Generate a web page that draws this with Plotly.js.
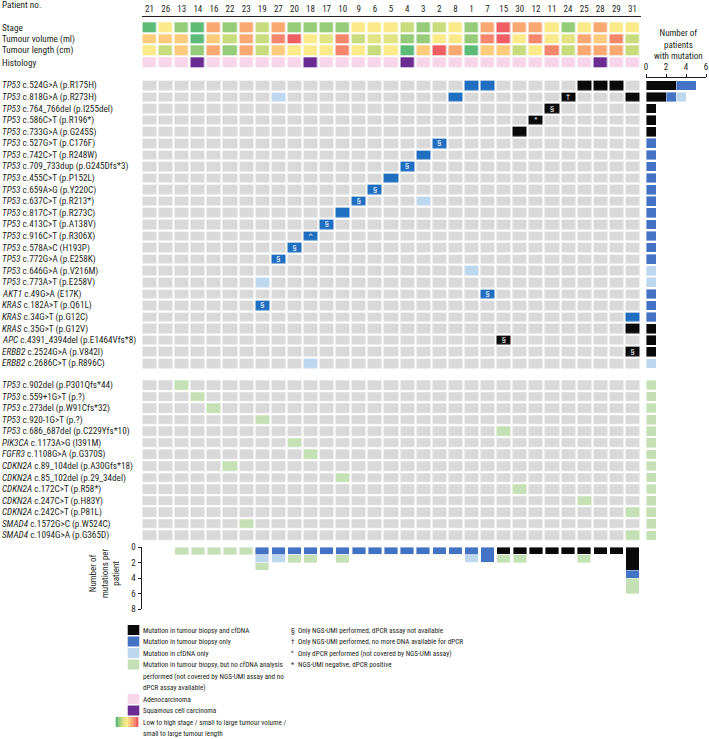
<!DOCTYPE html>
<html><head><meta charset="utf-8">
<script src="https://cdn.plot.ly/plotly-3.0.1.min.js"></script>
<style>html,body{margin:0;padding:0;background:#fff}#chart{width:709px;height:739px}</style>
</head><body><div id="chart"></div>
<script>
// ---------------- DATA ----------------
const patients = [21,26,13,14,16,22,23,19,27,20,18,17,10,9,6,5,4,3,2,8,1,7,15,30,12,11,24,25,28,29,31];
const clinicalLabels = ['Stage','Tumour volume (ml)','Tumour length (cm)','Histology'];
// colour level 1 (low/small, green) .. 9 (high/large, red)
const stageLevel  = [1,5,2,1,7,2,7,3,7,2,2,2,2,5,5,5,3,2,3,5,2,7,9,7,7,5,2,5,7,5,5];
const volumeLevel = [6,6,6,1,6,3,7,3,8,9,5,4,8,3,4,4,2,2,5,5,2,8,9,5,8,5,4,7,6,8,3];
const lengthLevel = [5,3,6,2,7,2,7,3,6,5,5,5,8,5,3,5,1,6,9,7,1,6,6,3,5,8,3,7,7,7,3];
const histology   = ['A','A','A','S','A','A','A','A','A','A','S','A','A','A','A','A','S','A','A','A','A','A','A','A','A','A','A','A','S','A','A'];

const group1Genes = ['TP53','TP53','TP53','TP53','TP53','TP53','TP53','TP53','TP53','TP53','TP53','TP53','TP53','TP53','TP53','TP53','TP53','TP53','AKT1','KRAS','KRAS','KRAS','APC','ERBB2','ERBB2'];
const group1Variants = ['c.524G>A (p.R175H)','c.818G>A (p.R273H)','c.764_766del (p.I255del)','c.586C>T (p.R196*)','c.733G>A (p.G245S)','c.527G>T (p.C176F)','c.742C>T (p.R248W)','c.709_733dup (p.G245Dfs*3)','c.455C>T (p.P152L)','c.659A>G (p.Y220C)','c.637C>T (p.R213*)','c.817C>T (p.R273C)','c.413C>T (p.A138V)','c.916C>T (p.R306X)','c.578A>C (H193P)','c.772G>A (p.E258K)','c.646G>A (p.V216M)','c.773A>T (p.E258V)','c.49G>A (E17K)','c.182A>T (p.Q61L)','c.34G>T (p.G12C)','c.35G>T (p.G12V)','c.4391_4394del (p.E1464Vfs*8)','c.2524G>A (p.V842I)','c.2686C>T (p.R896C)'];
// per row: [patient no., status, symbol]; B = biopsy+cfDNA, T = biopsy only, C = cfDNA only
const group1Hits = [
  [[1,'T'],[7,'T'],[25,'B'],[28,'B'],[29,'B']],
  [[27,'C'],[8,'T'],[24,'B','†'],[31,'B']],
  [[11,'B','§']],
  [[12,'B','*']],
  [[30,'B']],
  [[2,'T','§']],
  [[3,'T']],
  [[4,'T','§']],
  [[5,'T']],
  [[6,'T','§']],
  [[9,'T','§'],[3,'C']],
  [[10,'T']],
  [[17,'T','§']],
  [[18,'T','^']],
  [[20,'T','§']],
  [[27,'T','§']],
  [[1,'C']],
  [[19,'C']],
  [[7,'T','§']],
  [[19,'T','§']],
  [[31,'T']],
  [[31,'B']],
  [[15,'B','§']],
  [[31,'B','§']],
  [[18,'C']]
];
const group2Genes = ['TP53','TP53','TP53','TP53','TP53','PIK3CA','FGFR3','CDKN2A','CDKN2A','CDKN2A','CDKN2A','CDKN2A','SMAD4','SMAD4'];
const group2Variants = ['c.902del (p.P301Qfs*44)','c.559+1G>T (p.?)','c.273del (p.W91Cfs*32)','c.920-1G>T (p.?)','c.686_687del (p.C229Yfs*10)','c.1173A>G (I391M)','c.1108G>A (p.G370S)','c.89_104del (p.A30Gfs*18)','c.85_102del (p.29_34del)','c.172C>T (p.R58*)','c.247C>T (p.H83Y)','c.242C>T (p.P81L)','c.1572G>C (p.W524C)','c.1094G>A (p.G365D)'];
// biopsy-only, no cfDNA analysis
const group2Patients = [13,14,16,19,15,20,18,22,10,30,25,31,23,31];

// Number of patients with mutation (right bars)
const rowBlack = [3,2,1,1,1,0,0,0,0,0,0,0,0,0,0,0,0,0,0,0,0,1,1,1,0];
const rowBlue  = [2,1,0,0,0,1,1,1,1,1,1,1,1,1,1,1,0,0,1,1,1,0,0,0,0];
const rowLight = [0,1,0,0,0,0,0,0,0,0,0,0,0,0,0,0,1,1,0,0,0,0,0,0,1];
const rowGreen = [1,1,1,1,1,1,1,1,1,1,1,1,1,1];

// Number of mutations per patient (bottom bars)
const patBlack = [0,0,0,0,0,0,0,0,0,0,0,0,0,0,0,0,0,0,0,0,0,0,1,1,1,1,1,1,1,1,3];
const patBlue  = [0,0,0,0,0,0,0,1,1,1,1,1,1,1,1,1,1,1,1,1,1,2,0,0,0,0,0,0,0,0,1];
const patLight = [0,0,0,0,0,0,0,1,1,0,0,0,0,0,0,0,0,0,0,0,1,0,0,0,0,0,0,0,0,0,0];
const patGreen = [0,0,1,1,1,1,1,1,0,1,1,0,1,0,0,0,0,0,0,0,0,0,1,1,0,0,0,1,0,0,2];

const legendItems = ['Mutation in tumour biopsy and cfDNA','Mutation in tumour biopsy only','Mutation in cfDNA only','Mutation in tumour biopsy, but no cfDNA analysis','performed (not covered by NGS-UMI assay and no','dPCR assay available)','Adenocarcinoma','Squamous cell carcinoma','Low to high stage / small to large tumour volume /','small to large tumour length'];
const noteSymbols = ['§','†','^','*'];
const noteTexts = ['Only NGS-UMI performed, dPCR assay not available','Only NGS-UMI performed, no more DNA available for dPCR','Only dPCR performed (not covered by NGS-UMI assay)','NGS-UMI negative, dPCR positive'];

// ---------------- STYLE ----------------
const W = 709, H = 739;
const fx = p => p / W, fy = p => 1 - p / H;
const FONT = 'Roboto Condensed, Liberation Sans, Arial, sans-serif';
const TXT = '#231f20';
const levelColors = ['#5dba77','#95cb79','#c8dc7d','#e2e483','#faea89','#fdcb7c','#f9a872','#f4866c','#ee5e63'];
const PINK = '#f6d6e8', PURPLE = '#6a2c91';
const GREY = '#d9d9d9', BLACK = '#0a0a0a', BLUE = '#1f6ebf', LIGHT = '#bdd7ee', GREEN = '#c5e0b4', BARBLUE = '#4472c4';

function discreteScale(colors){
  const n = colors.length, s = [];
  colors.forEach((c,k)=>{ s.push([k/n, c]); s.push([(k+1)/n, c]); });
  return s;
}
const idx = patients.map((_,i)=>i);
const colOf = p => patients.indexOf(p);
const statusCode = {B:1, T:2, C:3, N:4};

const histCode = histology.map(h => h === 'S' ? 11 : 10);
const clinZ = [stageLevel, volumeLevel, lengthLevel, histCode];

const g1Z = group1Hits.map(row => { const r = patients.map(()=>0); row.forEach(h => r[colOf(h[0])] = statusCode[h[1]]); return r; });
const g2Z = group2Patients.map(p => { const r = patients.map(()=>0); r[colOf(p)] = statusCode.N; return r; });
const symX = [], symY = [], symT = [];
group1Hits.forEach((row, ri) => row.forEach(h => { if (h[2]) { symX.push(colOf(h[0])); symY.push(ri); symT.push(h[2]); } }));

const gridScale = discreteScale([GREY, BLACK, BLUE, LIGHT, GREEN]);

const traces = [
  {type:'heatmap', x: idx, y: [0,1,2,3], z: clinZ, xaxis:'x', yaxis:'y', zmin:0.5, zmax:11.5,
   colorscale: discreteScale(levelColors.concat([PINK, PURPLE])), showscale:false, xgap:2.5, ygap:2, hoverinfo:'skip'},
  {type:'heatmap', x: idx, y: group1Genes.map((_,i)=>i), z: g1Z, xaxis:'x', yaxis:'y2', zmin:-0.5, zmax:4.5,
   colorscale: gridScale, showscale:false, xgap:2, ygap:2.2, hoverinfo:'skip'},
  {type:'heatmap', x: idx, y: group2Genes.map((_,i)=>i), z: g2Z, xaxis:'x', yaxis:'y3', zmin:-0.5, zmax:4.5,
   colorscale: gridScale, showscale:false, xgap:2, ygap:2.2, hoverinfo:'skip'},
  {type:'scatter', mode:'text', x: symX, y: symY, text: symT, xaxis:'x', yaxis:'y2',
   textfont:{color:'#ffffff', size:8, family:'Liberation Sans, Arial, sans-serif'}, hoverinfo:'skip', showlegend:false},
];
const r1 = group1Genes.map((_,i)=>i), r2 = group2Genes.map((_,i)=>i);
const barLine = {color:'#ffffff', width:0.4};
[[rowBlack, BLACK],[rowBlue, BARBLUE],[rowLight, LIGHT]].forEach(([v,c]) => traces.push(
  {type:'bar', orientation:'h', x:v, y:r1, xaxis:'x3', yaxis:'y2', marker:{color:c, line:barLine}, hoverinfo:'skip', showlegend:false}));
traces.push({type:'bar', orientation:'h', x:rowGreen, y:r2, xaxis:'x3', yaxis:'y3', marker:{color:GREEN, line:barLine}, hoverinfo:'skip', showlegend:false});
[[patBlack, BLACK],[patBlue, BARBLUE],[patLight, LIGHT],[patGreen, GREEN]].forEach(([v,c]) => traces.push(
  {type:'bar', x:idx, y:v, xaxis:'x', yaxis:'y4', marker:{color:c, line:barLine}, hoverinfo:'skip', showlegend:false}));

const annotations = [];
const lab = (text, x, y, yref, size, extra) => annotations.push(Object.assign({
  text, x, y, xref:'paper', yref, xanchor:'left', yanchor:'middle', showarrow:false,
  font:{family:FONT, size, color:TXT}}, extra||{}));
lab('Patient no.', 0, fy(4.5), 'paper', 9.2);
clinicalLabels.forEach((t,i)=>lab(t, 0, i, 'y', 9.2));
group1Genes.forEach((g,i)=>lab('<i>'+g+'</i> '+group1Variants[i], 0, i, 'y2', 9.2));
group2Genes.forEach((g,i)=>lab('<i>'+g+'</i> '+group2Variants[i], 0, i, 'y3', 9.2));
annotations.push({text:'Number of<br>patients<br>with mutation', x:fx(678), y:fy(44), xref:'paper', yref:'paper',
  xanchor:'center', yanchor:'middle', showarrow:false, font:{family:FONT, size:9, color:TXT}});
annotations.push({text:'Number of<br>mutations per<br>patient', x:fx(104), y:fy(573), xref:'paper', yref:'paper',
  xanchor:'center', yanchor:'middle', textangle:-90, showarrow:false, font:{family:FONT, size:9, color:TXT}});
const legY = [630,641.5,653,664.5,676,687.5,699,710.5,722,733.5];
legendItems.forEach((t,i)=>lab(t, fx(141), fy(legY[i]), 'paper', 7.2));
noteTexts.forEach((t,i)=>{ lab(noteSymbols[i], fx(289), fy(legY[i]), 'paper', 7.2); lab(t, fx(296), fy(legY[i]), 'paper', 7.2); });

const shapes = [];
const rect = (x0,y0,x1,y1,c) => shapes.push({type:'rect', xref:'paper', yref:'paper', x0:fx(x0), x1:fx(x1), y0:fy(y1), y1:fy(y0), fillcolor:c, line:{width:0}});
[BLACK, BARBLUE, LIGHT, GREEN].forEach((c,i)=>rect(127.7, legY[i]-5, 139.3, legY[i]+5, c));
rect(127.7, legY[6]-5, 139.3, legY[6]+5, PINK);
rect(127.7, legY[7]-5, 139.3, legY[7]+5, PURPLE);
levelColors.forEach((c,i)=>rect(115.7 + i*2.5, legY[8]-5, 115.7 + (i+1)*2.5 + 0.2, legY[8]+5, c));

const tickFont = {family:FONT, size:9, color:TXT};
const layout = {
  width:W, height:H, margin:{l:0,r:0,t:0,b:0}, paper_bgcolor:'#fff', plot_bgcolor:'rgba(0,0,0,0)',
  showlegend:false, barmode:'stack', bargap:0.16, font:{family:FONT, color:TXT},
  xaxis:{domain:[fx(141.5), fx(640.5)], range:[-0.5,30.5], anchor:'free', position:fy(15.5), side:'top',
    showline:true, linecolor:'#231f20', linewidth:1.3, ticks:'', tickvals:idx, ticktext:patients.map(String),
    tickfont:tickFont, showgrid:false, zeroline:false, fixedrange:true},
  yaxis:{domain:[fy(68), fy(21.3)], range:[3.5,-0.5], visible:false, fixedrange:true},
  yaxis2:{domain:[fy(369.2), fy(79.6)], range:[24.5,-0.5], visible:false, fixedrange:true},
  yaxis3:{domain:[fy(541.2), fy(379.2)], range:[13.5,-0.5], visible:false, fixedrange:true},
  yaxis4:{domain:[fy(609), fy(547)], range:[8,0], anchor:'x', side:'left', showline:true, linecolor:'#231f20', linewidth:1,
    ticks:'outside', ticklen:3, tickcolor:'#231f20', tickvals:[0,2,4,6,8], tickfont:tickFont, showgrid:false, zeroline:false, fixedrange:true},
  xaxis3:{domain:[fx(646), fx(706)], range:[0,6], anchor:'free', position:fy(77), side:'top', showline:true, linecolor:'#231f20', linewidth:1,
    ticks:'outside', ticklen:3, tickcolor:'#231f20', tickvals:[0,2,4,6], tickfont:tickFont, showgrid:false, zeroline:false, fixedrange:true},
  annotations, shapes
};
Plotly.newPlot('chart', traces, layout, {displayModeBar:false, staticPlot:true});
</script></body></html>
